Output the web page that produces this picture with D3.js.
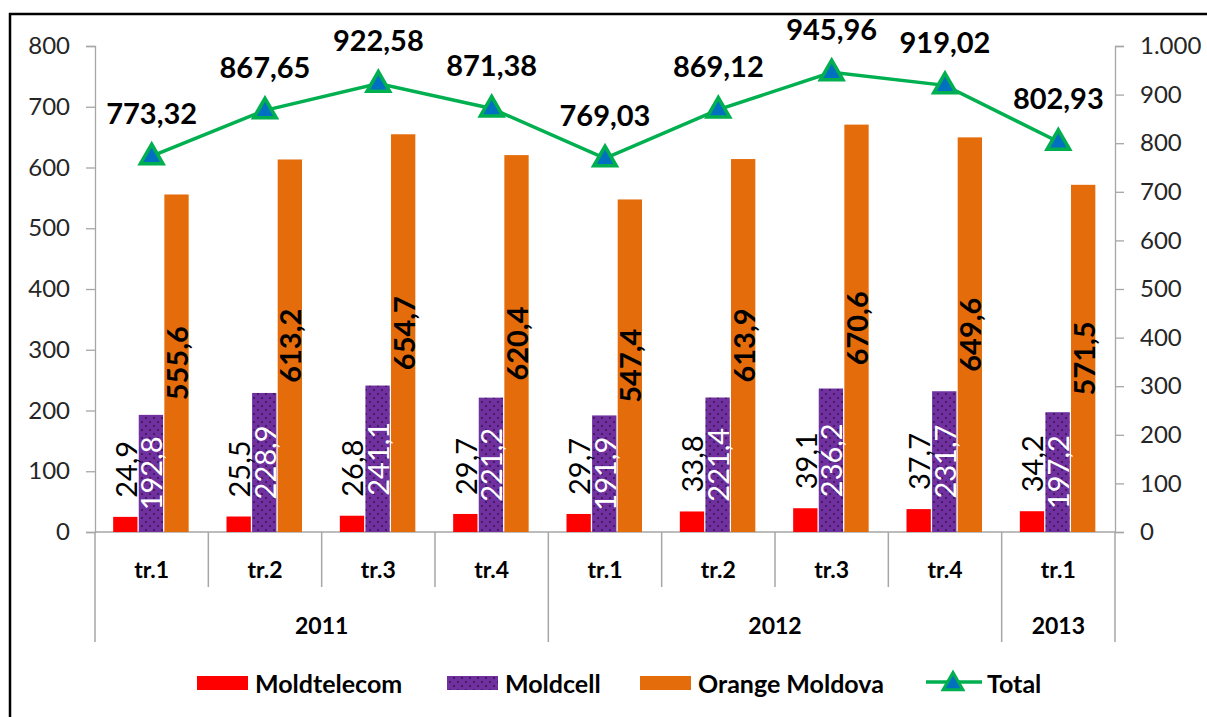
<!DOCTYPE html>
<html><head><meta charset="utf-8">
<script src="https://cdn.jsdelivr.net/npm/d3@7/dist/d3.min.js"></script>
<style>body{margin:0;background:#fff;}svg{display:block;font-family:Lato,"Noto Sans",sans-serif;}</style>
</head><body><svg id="c" width="1207" height="717"></svg>
<script>
const quarters = ["tr.1","tr.2","tr.3","tr.4","tr.1","tr.2","tr.3","tr.4","tr.1"];
const years = [{label:"2011", from:0, to:4},{label:"2012", from:4, to:8},{label:"2013", from:8, to:9}];
const seriesNames = ["Moldtelecom","Moldcell","Orange Moldova"];
const moldtelecom = [24.9,25.5,26.8,29.7,29.7,33.8,39.1,37.7,34.2];
const moldcell = [192.8,228.9,241.1,221.2,191.9,221.4,236.2,231.7,197.2];
const orange = [555.6,613.2,654.7,620.4,547.4,613.9,670.6,649.6,571.5];
const total = [773.32,867.65,922.58,871.38,769.03,869.12,945.96,919.02,802.93];
const leftTicks = [0,100,200,300,400,500,600,700,800];
const rightTicks = [0,100,200,300,400,500,600,700,800,900,1000];

const colors = {Moldtelecom:"#FF0000", Moldcell:"#7030A0", "Orange Moldova":"#E46C0A", line:"#00B050", marker:"#0070C0"};
const loc = d3.formatLocale({decimal:",", thousands:".", grouping:[3], currency:["",""]});
const fmtTick = loc.format(",d");
const fmtVal = v => loc.format(",.1f")(v);
const fmtTot = v => loc.format(",.2f")(v);

const svg = d3.select("#c");
const defs = svg.append("defs");
const pat = defs.append("pattern").attr("id","dots").attr("patternUnits","userSpaceOnUse").attr("width",8).attr("height",8);
pat.append("rect").attr("width",8).attr("height",8).attr("fill",colors.Moldcell);
pat.append("circle").attr("cx",2).attr("cy",2).attr("r",0.75).attr("fill","#000");
pat.append("circle").attr("cx",6).attr("cy",6).attr("r",0.75).attr("fill","#000");
const fills = {Moldtelecom:colors.Moldtelecom, Moldcell:"url(#dots)", "Orange Moldova":colors["Orange Moldova"]};

// border
svg.append("rect").attr("x",10).attr("y",14).attr("width",1210).attr("height",720).attr("fill","none").attr("stroke","#000").attr("stroke-width",2.5);

const L = 95, R = 1115, T = 46, B = 532;
const idx = d3.range(quarters.length);
const x = d3.scaleBand().domain(idx).range([L,R]).padding(0);
const x1 = d3.scaleBand().domain(seriesNames).range([-38.5,37]).paddingInner(0.05);
const yL = d3.scaleLinear().domain([0,800]).range([B,T]);
const yR = d3.scaleLinear().domain([0,1000]).range([B,T]);
const axisColor = "#A6A6A6";

// left axis
const gl = svg.append("g").attr("transform",`translate(${L},0)`).call(d3.axisLeft(yL).tickValues(leftTicks).tickFormat(fmtTick).tickSize(9).tickPadding(16));
gl.select(".domain").attr("stroke",axisColor).attr("stroke-width",1.3);
gl.selectAll(".tick line").attr("stroke",axisColor).attr("stroke-width",1.3);
gl.selectAll("text").attr("font-size",24).attr("fill","#262626").attr("font-family","Lato");
// right axis
const gr = svg.append("g").attr("transform",`translate(${R},0)`).call(d3.axisRight(yR).tickValues(rightTicks).tickFormat(fmtTick).tickSize(9).tickPadding(16));
gr.select(".domain").attr("stroke",axisColor).attr("stroke-width",1.3);
gr.selectAll(".tick line").attr("stroke",axisColor).attr("stroke-width",1.3);
gr.selectAll("text").attr("font-size",24).attr("fill","#262626").attr("font-family","Lato");

// category axis
svg.append("line").attr("x1",L).attr("x2",R).attr("y1",B).attr("y2",B).attr("stroke",axisColor).attr("stroke-width",1.5);
const bounds = d3.range(quarters.length+1);
const yearEdges = new Set(years.flatMap(y=>[y.from,y.to]));
svg.append("g").selectAll("line").data(bounds).join("line")
  .attr("x1",i=> i<quarters.length ? x(i) : x.range()[1]).attr("x2",i=> i<quarters.length ? x(i) : x.range()[1])
  .attr("y1",B).attr("y2",i=> yearEdges.has(i) ? 642 : 587)
  .attr("stroke",axisColor).attr("stroke-width",1.5);
svg.append("g").selectAll("text").data(idx).join("text")
  .attr("x",i=>x(i)+x.bandwidth()/2).attr("y",569).attr("text-anchor","middle").attr("dominant-baseline","central")
  .attr("font-size",23).attr("font-weight","bold").attr("fill","#000").text(i=>quarters[i]);
svg.append("g").selectAll("text").data(years).join("text")
  .attr("x",d=>(x(d.from)+ (d.to<quarters.length? x(d.to): R))/2).attr("y",625).attr("text-anchor","middle").attr("dominant-baseline","central")
  .attr("font-size",23).attr("font-weight","bold").attr("fill","#000").text(d=>d.label);

// bars
const seriesData = {Moldtelecom:moldtelecom, Moldcell:moldcell, "Orange Moldova":orange};
const gb = svg.append("g");
seriesNames.forEach(s=>{
  gb.append("g").selectAll("rect").data(seriesData[s]).join("rect")
    .attr("x",(d,i)=>x(i)+x.bandwidth()/2+x1(s)).attr("width",x1.bandwidth())
    .attr("y",d=>yL(d)).attr("height",d=>B-yL(d)).attr("fill",fills[s]);
});
// bar labels
const gtl = svg.append("g");
moldtelecom.forEach((d,i)=>{
  const cx = x(i)+x.bandwidth()/2+x1("Moldtelecom")+x1.bandwidth()/2, cy = yL(d)-19;
  gtl.append("text").attr("transform",`translate(${cx},${cy}) rotate(-90)`).attr("text-anchor","start").attr("dominant-baseline","central")
    .attr("font-size",29).attr("fill","#000").text(fmtVal(d));
});
moldcell.forEach((d,i)=>{
  const cx = x(i)+x.bandwidth()/2+x1("Moldcell")+x1.bandwidth()/2, cy = (yL(d)+B)/2;
  gtl.append("text").attr("transform",`translate(${cx},${cy}) rotate(-90)`).attr("text-anchor","middle").attr("dominant-baseline","central")
    .attr("font-size",29).attr("fill","#fff").text(fmtVal(d));
});
orange.forEach((d,i)=>{
  const cx = x(i)+x.bandwidth()/2+x1("Orange Moldova")+x1.bandwidth()/2, cy = (yL(d)+B)/2;
  gtl.append("text").attr("transform",`translate(${cx},${cy}) rotate(-90)`).attr("text-anchor","middle").attr("dominant-baseline","central")
    .attr("font-size",29).attr("font-weight","bold").attr("fill","#000").text(fmtVal(d));
});

// total line
const line = d3.line().x((d,i)=>x(i)+x.bandwidth()/2).y(d=>yR(d));
svg.append("path").datum(total).attr("d",line).attr("fill","none").attr("stroke",colors.line).attr("stroke-width",3.5);
const tri = d3.symbol().type(d3.symbolTriangle).size(220);
svg.append("g").selectAll("path").data(total).join("path")
  .attr("transform",(d,i)=>`translate(${x(i)+x.bandwidth()/2},${yR(d)+1})`).attr("d",tri)
  .attr("fill",colors.marker).attr("stroke",colors.line).attr("stroke-width",3.5).attr("stroke-linejoin","miter");
svg.append("g").selectAll("text").data(total).join("text")
  .attr("x",(d,i)=>x(i)+x.bandwidth()/2).attr("y",d=>yR(d)-44).attr("text-anchor","middle").attr("dominant-baseline","central")
  .attr("font-size",29).attr("font-weight","bold").attr("fill","#000").text(fmtTot);

// legend
const lg = svg.append("g");
const legendItems = [
  {name:"Moldtelecom", sx:197, tx:255},
  {name:"Moldcell", sx:447, tx:505},
  {name:"Orange Moldova", sx:640, tx:698}
];
legendItems.forEach(it=>{
  lg.append("rect").attr("x",it.sx).attr("y",676).attr("width",51).attr("height",14).attr("fill",fills[it.name]);
  lg.append("text").attr("x",it.tx).attr("y",683).attr("dominant-baseline","central").attr("font-size",25).attr("font-weight","bold").attr("fill","#000").text(it.name);
});
lg.append("line").attr("x1",926).attr("x2",982).attr("y1",682).attr("y2",682).attr("stroke",colors.line).attr("stroke-width",3.5);
lg.append("path").attr("transform","translate(953,684)").attr("d",d3.symbol().type(d3.symbolTriangle).size(170)).attr("fill",colors.marker).attr("stroke",colors.line).attr("stroke-width",3);
lg.append("text").attr("x",987).attr("y",683).attr("dominant-baseline","central").attr("font-size",25).attr("font-weight","bold").attr("fill","#000").text("Total");
</script></body></html>
